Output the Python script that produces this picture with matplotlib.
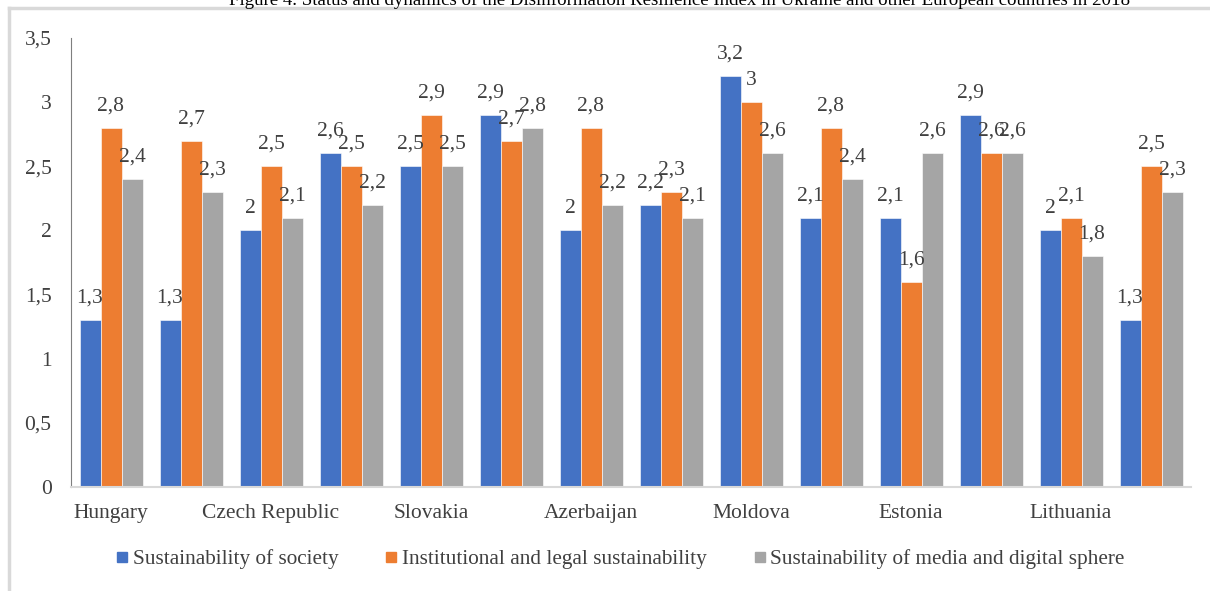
import numpy as np
import matplotlib.pyplot as plt
from matplotlib.lines import Line2D

plt.rcParams['font.family'] = ['Liberation Serif', 'DejaVu Serif']

# Only every other country is labelled in the source chart
paises = ['Hungary', '', 'Czech Republic', '', 'Slovakia', '', 'Azerbaijan', '',
          'Moldova', '', 'Estonia', '', 'Lithuania', '']
sociedad = [1.3, 1.3, 2.0, 2.6, 2.5, 2.9, 2.0, 2.2, 3.2, 2.1, 2.1, 2.9, 2.0, 1.3]
institucional = [2.8, 2.7, 2.5, 2.5, 2.9, 2.7, 2.8, 2.3, 3.0, 2.8, 1.6, 2.6, 2.1, 2.5]
medios = [2.4, 2.3, 2.1, 2.2, 2.5, 2.8, 2.2, 2.1, 2.6, 2.4, 2.6, 2.6, 1.8, 2.3]
series = ['Sustainability of society', 'Institutional and legal sustainability',
          'Sustainability of media and digital sphere']
colores = ['#4472C4', '#ED7D31', '#A5A5A5']
titulo = ('Figure 4. Status and dynamics of the Disinformation Resilience Index '
          'in Ukraine and other European countries in 2018')


def fmt(v):
    # coma decimal, como en el original
    return ('%g' % v).replace('.', ',')


fig = plt.figure(figsize=(12.1, 5.91), dpi=100)
ax = fig.add_axes([71 / 1210, 1 - 487 / 591, 1120 / 1210, 449 / 591])

x = np.arange(len(paises))
ancho = 0.2625
for k, (vals, col) in enumerate(zip([sociedad, institucional, medios], colores)):
    pos = x + (k - 1) * ancho
    ax.bar(pos, vals, width=ancho, color=col, edgecolor='white', linewidth=0.4, zorder=2)
    for px, v in zip(pos, vals):
        ax.annotate(fmt(v), (px, v), xytext=(0, 9), textcoords='offset points',
                    ha='center', va='bottom', fontsize=15.5, color='#404040', zorder=3)

ax.set_xlim(-0.5, len(paises) - 0.5)
ax.set_ylim(0, 3.5)
yt = np.arange(0, 3.51, 0.5)
ax.set_yticks(yt)
ax.set_yticklabels([fmt(v) for v in yt], fontsize=15.5, color='#404040')
ax.set_xticks(x)
ax.set_xticklabels(paises, fontsize=15.5, color='#404040')
ax.tick_params(axis='y', length=0, pad=14)
ax.tick_params(axis='x', length=0, pad=12)

for lado in ['top', 'right']:
    ax.spines[lado].set_visible(False)
ax.spines['left'].set_color('#7f7f7f')
ax.spines['left'].set_linewidth(0.8)
ax.spines['bottom'].set_color('#d9d9d9')
ax.spines['bottom'].set_linewidth(1.5)

handles = [Line2D([], [], marker='s', linestyle='', markersize=7, color=c) for c in colores]
fig.legend(handles, series, loc='center', bbox_to_anchor=(0.509, 1 - 559 / 591), ncol=3,
           frameon=False, fontsize=15.3, handletextpad=-0.2, handlelength=1.4,
           columnspacing=1.8, labelcolor='#404040')

# marco de la imagen original
fig.add_artist(Line2D([9 / 1210, 9 / 1210], [0, 1 - 8 / 591], color='#d9d9d9', lw=2.5,
                      transform=fig.transFigure))
fig.add_artist(Line2D([9 / 1210, 1], [1 - 8 / 591, 1 - 8 / 591], color='#d9d9d9', lw=2.5,
                      transform=fig.transFigure))

fig.text(0.562, 1.0, titulo, ha='center', va='center', fontsize=13.6, color='black')

fig.savefig('out.png', dpi=100)
